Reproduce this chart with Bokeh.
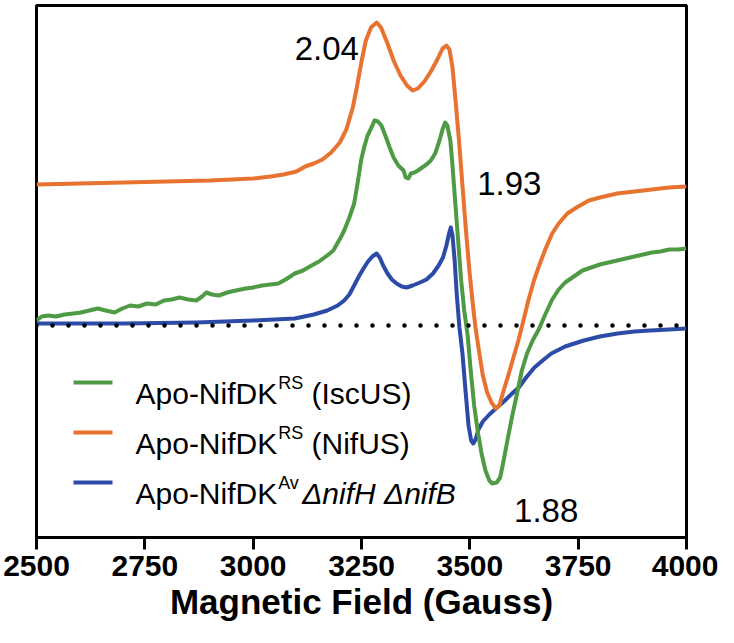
from bokeh.plotting import figure
from bokeh.models import Label, BoxAnnotation, FixedTicker, Range1d, Span
from bokeh.embed import file_html
from bokeh.resources import INLINE

# ---------------- data ----------------
field_nifus = [2500, 2600, 2700, 2800, 2900, 2950, 3000, 3040, 3070, 3100, 3120, 3140,
               3160, 3180, 3200, 3215, 3230, 3240, 3250, 3260, 3272, 3285, 3295, 3310,
               3325, 3340, 3355, 3368, 3380, 3395, 3410, 3425, 3437, 3446, 3453, 3460,
               3467, 3475, 3483, 3491, 3499, 3506, 3513, 3522, 3530, 3540, 3550, 3560,
               3568, 3578, 3590, 3600, 3612, 3622, 3635, 3648, 3660, 3675, 3690, 3705,
               3725, 3750, 3775, 3800, 3840, 3880, 3920, 3960, 4000]
sig_nifus = [141, 142, 143, 144, 145, 146, 147, 149, 151, 154, 159, 162,
             166, 173, 183, 196, 218, 240, 264, 285, 298, 303, 298, 282,
             264, 250, 240, 235, 237, 244, 254, 266, 277, 280, 276, 258,
             225, 185, 140, 95, 55, 25, -2, -28, -50, -67, -77, -83,
             -80, -65, -48, -33, -15, 2, 25, 45, 60, 77, 92, 102,
             112, 119, 125, 128, 132, 134, 136, 138, 139]

field_iscus = [2500, 2512, 2527, 2545, 2565, 2585, 2602, 2622, 2641, 2660, 2680, 2698,
               2716, 2735, 2755, 2775, 2794, 2812, 2830, 2850, 2869, 2882, 2892, 2905,
               2921, 2940, 2960, 2983, 3000, 3021, 3040, 3058, 3075, 3096, 3115, 3135,
               3152, 3171, 3185, 3194, 3202, 3210, 3222, 3233, 3242, 3249, 3256, 3264,
               3272, 3280, 3288, 3296, 3305, 3315, 3324, 3335, 3347, 3352, 3358, 3364,
               3372, 3380, 3390, 3400, 3410, 3420, 3430, 3437, 3443, 3448, 3455, 3460,
               3466, 3473, 3480, 3487, 3495, 3502, 3510, 3518, 3527, 3536, 3545, 3552,
               3562, 3570, 3578, 3588, 3598, 3608, 3620, 3632, 3645, 3660, 3675, 3690,
               3705, 3720, 3740, 3760, 3780, 3800, 3820, 3840, 3860, 3880, 3900, 3920,
               3940, 3960, 3980, 4000]
sig_iscus = [5, 9, 10, 9, 11, 12, 13, 15, 17, 15, 13, 17,
             20, 19, 22, 21, 25, 26, 28, 26, 25, 29, 33, 31,
             30, 33, 35, 37, 38, 40, 41, 42, 46, 52, 55, 60,
             64, 70, 75, 82, 88, 95, 108, 122, 145, 165, 178, 190,
             197, 205, 204, 200, 190, 178, 168, 160, 155, 148, 147, 152,
             153, 155, 158, 161, 165, 172, 185, 196, 203, 200, 185, 160,
             125, 85, 45, 15, -10, -45, -80, -105, -128, -145, -155, -158,
             -157, -152, -135, -112, -90, -70, -45, -28, -15, -3, 12, 26,
             36, 43, 49, 55, 58, 61, 63, 65, 67, 69, 71, 73,
             74, 76, 76, 77]

field_av = [2500, 2700, 2869, 3000, 3096, 3140, 3171, 3195, 3210, 3222, 3233, 3245,
            3256, 3265, 3275, 3285, 3292, 3300, 3310, 3320, 3331, 3343, 3354, 3368,
            3385, 3400, 3415, 3428, 3438, 3446, 3452, 3456, 3460, 3465, 3470, 3476,
            3483, 3490, 3497, 3503, 3508, 3513, 3520, 3530, 3545, 3560, 3581, 3600,
            3613, 3630, 3649, 3668, 3688, 3720, 3763, 3800, 3841, 3880, 3916, 3960, 4000]
sig_av = [2, 2, 3, 5, 7, 11, 15, 20, 25, 31, 40, 50,
          58, 64, 69, 72, 68, 60, 52, 46, 42, 39, 38, 40,
          43, 46, 52, 60, 68, 80, 92, 98, 90, 65, 30, -2,
          -28, -65, -100, -115, -118, -114, -104, -96, -89, -83, -75, -67,
          -62, -52, -42, -35, -28, -21, -15, -11, -8, -6, -5, -4, -3]

x_ticks = [2500, 2750, 3000, 3250, 3500, 3750, 4000]

g_values = ["2.04", "1.93", "1.88"]
g_field = [3244, 3517, 3602]
g_signal = [277, 142, -185]
g_align = ["right", "left", "left"]

GREEN = "#4f9a45"
ORANGE = "#e8722f"
BLUE = "#2b4ba6"

# ---------------- layout ----------------
W, H = 718, 627
BL, BR, BT, BB = 36, 32, 5, 90
FRAME_W = W - BL - BR
PX_PER_G = FRAME_W / 1500.0
Y_TOP = 320
FONT = "Liberation Sans"

p = figure(width=W, height=H, output_backend="svg", toolbar_location=None,
           x_range=Range1d(2500, 4000), y_range=Range1d(-212, Y_TOP),
           y_axis_location=None,
           min_border_left=BL, min_border_right=BR, min_border_top=BT, min_border_bottom=BB)
p.grid.visible = False
p.outline_line_color = "black"
p.outline_line_width = 3
p.outline_line_alpha = 1.0
p.background_fill_color = "white"
p.border_fill_color = "white"

ax = p.xaxis[0]
ax.ticker = FixedTicker(ticks=x_ticks)
ax.axis_line_width = 3
ax.axis_line_color = "black"
ax.major_tick_line_width = 3
ax.major_tick_line_color = "black"
ax.major_tick_out = 12
ax.major_tick_in = 0
ax.minor_tick_line_color = None
ax.major_label_standoff = 6
ax.major_label_text_font = FONT
ax.major_label_text_font_size = "30px"
ax.major_label_text_font_style = "bold"
ax.major_label_text_color = "black"
ax.axis_label = "Magnetic Field (Gauss)"
ax.axis_label_standoff = 3
ax.axis_label_text_font = FONT
ax.axis_label_text_font_size = "35px"
ax.axis_label_text_font_style = "bold"
ax.axis_label_text_color = "black"

# dotted zero line
p.add_layout(Span(location=0, dimension="width", line_color="black", line_width=4.5,
                  line_dash="0 16", line_cap="round"))

p.line(field_av, sig_av, line_color=BLUE, line_width=4, line_join="round")
p.line(field_nifus, sig_nifus, line_color=ORANGE, line_width=4, line_join="round")
p.line(field_iscus, sig_iscus, line_color=GREEN, line_width=4, line_join="round")

for t, gx_, gy_, al in zip(g_values, g_field, g_signal, g_align):
    p.add_layout(Label(x=gx_, y=gy_, text=t, text_align=al, text_baseline="alphabetic",
                       text_font=FONT, text_font_size="33px", text_color="black"))

# ---------------- legend (built by hand for superscripts) ----------------
ARIAL = {"A": .667, "p": .556, "o": .556, "-": .333, "N": .722, "i": .222, "f": .278,
         "D": .722, "K": .667, "R": .722, "S": .667, "v": .5, " ": .278, "(": .333,
         "I": .278, "s": .5, "c": .5, "U": .722, ")": .333}


def tw(s, size):
    return sum(ARIAL.get(ch, .6) for ch in s) * size


def lx(off_px):  # horizontal offset from the frame's left edge -> data x
    return 2500 + off_px / PX_PER_G


def ly(off_px):  # offset below the frame top (1 data unit per pixel) -> data y
    return Y_TOP - off_px


LEG_F = 30
SUP_F = 18
legend_rows = [
    (GREEN, "RS", "(IscUS)", "normal"),
    (ORANGE, "RS", "(NifUS)", "normal"),
    (BLUE, "Av", "\u0394nifH \u0394nifB", "italic"),
]
for i, (col, sup, tail, style) in enumerate(legend_rows):
    cy = 377 + 50 * i          # swatch centre, px below frame top
    base = cy + 11             # text baseline
    p.add_layout(BoxAnnotation(left=lx(37), right=lx(76), bottom=ly(cy + 2), top=ly(cy - 2),
                               fill_color=col, fill_alpha=1, line_alpha=0))
    x0 = 99
    p.add_layout(Label(x=lx(x0), y=ly(base), text="Apo-NifDK", text_font=FONT,
                       text_font_size=f"{LEG_F}px", text_baseline="alphabetic", text_color="black"))
    x1 = x0 + tw("Apo-NifDK", LEG_F) + 1
    p.add_layout(Label(x=lx(x1), y=ly(base - 11), text=sup, text_font=FONT,
                       text_font_size=f"{SUP_F}px", text_baseline="alphabetic", text_color="black"))
    x2 = x1 + tw(sup, SUP_F) + (tw(" ", LEG_F) if style == "normal" else 3)
    p.add_layout(Label(x=lx(x2), y=ly(base), text=tail, text_font=FONT,
                       text_font_size=f"{LEG_F}px", text_font_style=style,
                       text_baseline="alphabetic", text_color="black"))

open("out.html", "w").write(file_html(p, INLINE))
